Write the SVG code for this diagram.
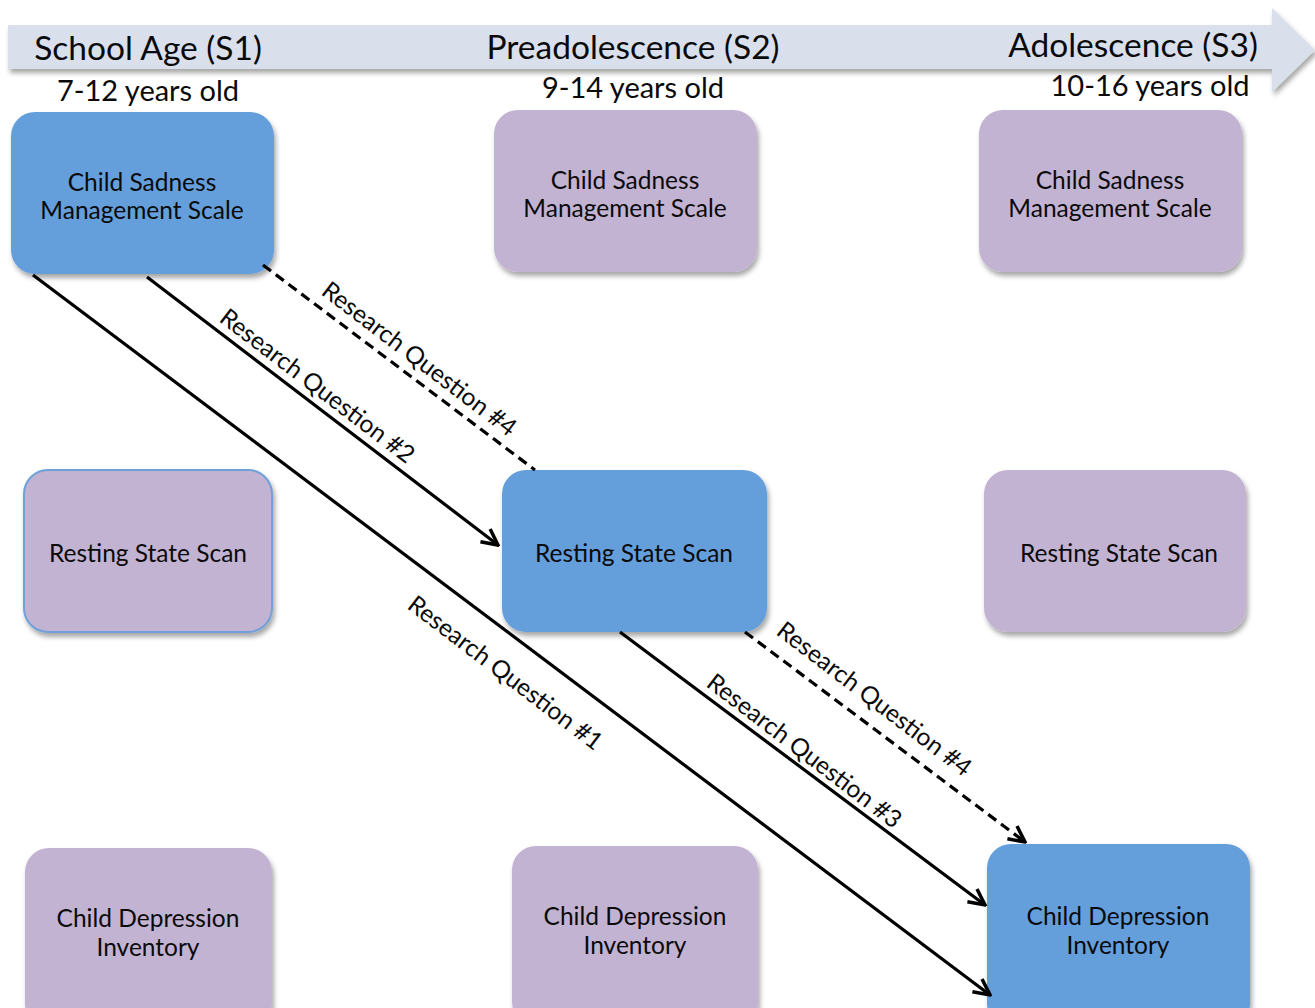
<svg xmlns="http://www.w3.org/2000/svg" width="1315" height="1008" viewBox="0 0 1315 1008">
<defs>
<filter id="sh" x="-10%" y="-10%" width="125%" height="130%">
<feDropShadow dx="2" dy="4" stdDeviation="2.5" flood-color="#000" flood-opacity="0.35"/>
</filter>
<marker id="ah" viewBox="0 0 12 12" refX="11" refY="6" markerWidth="6" markerHeight="6" markerUnits="strokeWidth" orient="auto">
<path d="M1,1 L11,6 L1,11" fill="none" stroke="#000" stroke-width="2.2"/>
</marker>
<style>
.blue{fill:#659fdb;}
.purple{fill:#c3b3d3;}
.nt{font-family:Lato,"Liberation Sans",sans-serif;font-size:24.5px;fill:#0a0a0a;text-anchor:middle;dominant-baseline:central;}
.hd{font-family:Lato,"Liberation Sans",sans-serif;font-size:33.5px;fill:#0a0a0a;text-anchor:middle;dominant-baseline:central;}
.ag{font-family:Lato,"Liberation Sans",sans-serif;font-size:29px;fill:#0a0a0a;text-anchor:middle;dominant-baseline:central;}
.lb{font-family:Lato,"Liberation Sans",sans-serif;font-size:24.5px;fill:#0a0a0a;text-anchor:middle;dominant-baseline:central;}
.ln{stroke:#000;stroke-width:3.2;fill:none;}
.dash{stroke-dasharray:10 6;}
</style>
</defs>
<rect width="1315" height="1008" fill="#fff"/>
<g id="timeline">
<polygon points="8,25 1272,25 1272,8 1315,50 1272,92 1272,69 8,69" fill="#d9e0ec" filter="url(#sh)"/>
<text class="hd" x="148" y="47">School Age (S1)</text>
<text class="hd" x="633" y="46">Preadolescence (S2)</text>
<text class="hd" x="1133" y="44">Adolescence (S3)</text>
<text class="ag" x="148" y="89">7-12 years old</text>
<text class="ag" x="633" y="86">9-14 years old</text>
<text class="ag" x="1150" y="84">10-16 years old</text>
</g>
<g id="s1-csms"><rect class="blue" x="11" y="112" width="263" height="162" rx="24" filter="url(#sh)"/><text class="nt" x="142" y="181">Child Sadness</text><text class="nt" x="142" y="209">Management Scale</text></g>
<g id="s2-csms"><rect class="purple" x="494" y="110" width="263" height="162" rx="24" filter="url(#sh)"/><text class="nt" x="625" y="179">Child Sadness</text><text class="nt" x="625" y="207">Management Scale</text></g>
<g id="s3-csms"><rect class="purple" x="979" y="110" width="263" height="162" rx="24" filter="url(#sh)"/><text class="nt" x="1110" y="179">Child Sadness</text><text class="nt" x="1110" y="207">Management Scale</text></g>
<g id="s1-rss"><rect class="purple" x="24" y="470" width="248" height="162" rx="24" stroke="#6fa0d8" stroke-width="2" filter="url(#sh)"/><text class="nt" x="148" y="552">Resting State Scan</text></g>
<g id="s2-rss"><rect class="blue" x="502" y="470" width="265" height="162" rx="24" filter="url(#sh)"/><text class="nt" x="634" y="552">Resting State Scan</text></g>
<g id="s3-rss"><rect class="purple" x="984" y="470" width="262" height="162" rx="24" filter="url(#sh)"/><text class="nt" x="1119" y="552">Resting State Scan</text></g>
<g id="s1-cdi"><rect class="purple" x="25" y="848" width="247" height="180" rx="24" filter="url(#sh)"/><text class="nt" x="148" y="917">Child Depression</text><text class="nt" x="148" y="946">Inventory</text></g>
<g id="s2-cdi"><rect class="purple" x="512" y="846" width="246" height="180" rx="24" filter="url(#sh)"/><text class="nt" x="635" y="915">Child Depression</text><text class="nt" x="635" y="944">Inventory</text></g>
<g id="s3-cdi"><rect class="blue" x="987" y="844" width="263" height="184" rx="24" filter="url(#sh)"/><text class="nt" x="1118" y="915">Child Depression</text><text class="nt" x="1118" y="944">Inventory</text></g>
<g id="connectors">
<line class="ln" x1="33" y1="275" x2="990" y2="995" marker-end="url(#ah)"/>
<line class="ln" x1="147" y1="277" x2="498" y2="545" marker-end="url(#ah)"/>
<line class="ln dash" x1="263" y1="265" x2="535" y2="470"/>
<line class="ln" x1="620" y1="632" x2="985" y2="905" marker-end="url(#ah)"/>
<line class="ln dash" x1="745" y1="632" x2="1025" y2="842" marker-end="url(#ah)"/>
<text class="lb" transform="translate(420,358) rotate(37.3)">Research Question #4</text>
<text class="lb" transform="translate(318,385) rotate(37.3)">Research Question #2</text>
<text class="lb" transform="translate(506,672) rotate(37.3)">Research Question #1</text>
<text class="lb" transform="translate(875,698) rotate(37.3)">Research Question #4</text>
<text class="lb" transform="translate(805,750) rotate(37.3)">Research Question #3</text>
</g>
</svg>
